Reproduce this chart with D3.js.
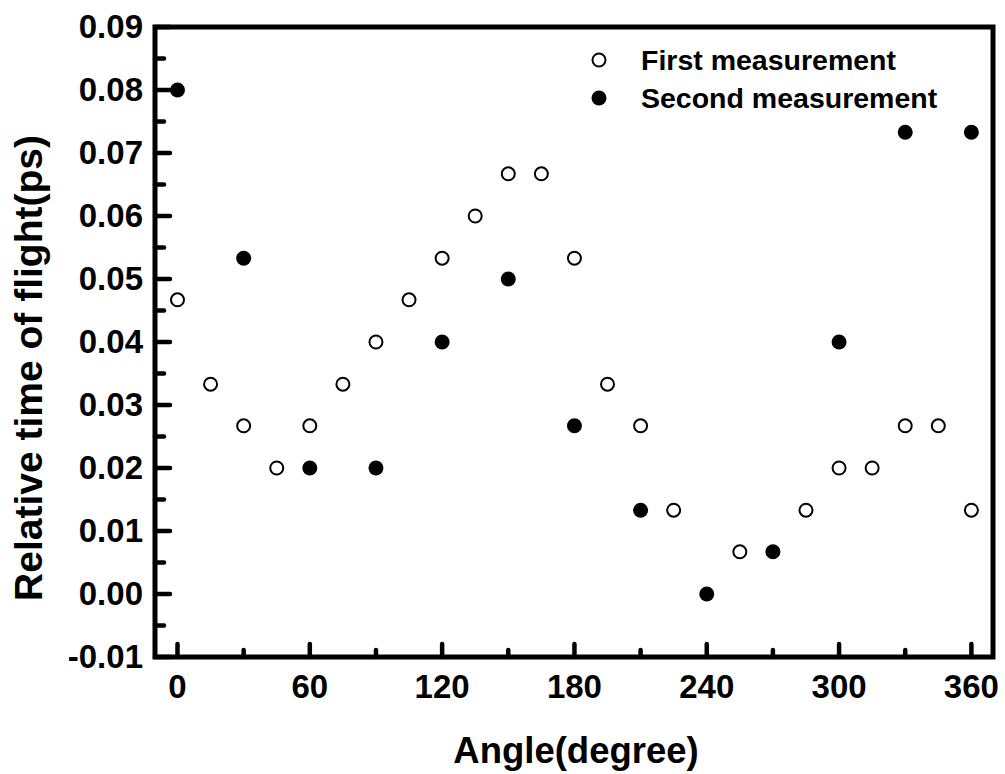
<!DOCTYPE html>
<html>
<head>
<meta charset="utf-8">
<script src="https://cdn.jsdelivr.net/npm/d3@7/dist/d3.min.js"></script>
<style>
  html, body { margin: 0; padding: 0; background: #fff; }
</style>
</head>
<body>
<div id="chart"></div>
<script>
// data
const firstAngles = [0, 15, 30, 45, 60, 75, 90, 105, 120, 135, 150, 165, 180, 195, 210, 225, 255, 285, 300, 315, 330, 345, 360]
const firstValues = [0.0467, 0.0333, 0.0267, 0.02, 0.0267, 0.0333, 0.04, 0.0467, 0.0533, 0.06, 0.0667, 0.0667, 0.0533, 0.0333, 0.0267, 0.0133, 0.0067, 0.0133, 0.02, 0.02, 0.0267, 0.0267, 0.0133]
const secondAngles = [0, 30, 60, 90, 120, 150, 180, 210, 240, 270, 300, 330, 360]
const secondValues = [0.08, 0.0533, 0.02, 0.02, 0.04, 0.05, 0.0267, 0.0133, 0, 0.0067, 0.04, 0.0733, 0.0733]
const xTicks = [0, 60, 120, 180, 240, 300, 360]
const xMinor = [30, 90, 150, 210, 270, 330]
const yTicks = [-0.01, 0, 0.01, 0.02, 0.03, 0.04, 0.05, 0.06, 0.07, 0.08, 0.09]
const yMinor = [-0.005, 0.005, 0.015, 0.025, 0.035, 0.045, 0.055, 0.065, 0.075, 0.085]
const legendLabels = ['First measurement', 'Second measurement']

const width = 1005
const height = 774
const margin = { top: 27, right: 12, bottom: 117, left: 155 }
const innerWidth = width - margin.left - margin.right
const innerHeight = height - margin.top - margin.bottom
const font = '"Liberation Sans", Arial, sans-serif'

const x = d3.scaleLinear().domain([-10.2, 369.8]).range([0, innerWidth])
const y = d3.scaleLinear().domain([-0.01, 0.09]).range([innerHeight, 0])

const svg = d3.select('#chart')
  .append('svg')
  .attr('width', width)
  .attr('height', height)
  .style('font-family', font)

const chart = svg.append('g')
  .attr('transform', `translate(${margin.left},${margin.top})`)

// points first, frame drawn over them
const first = firstAngles.map((a, i) => ({ x: a, y: firstValues[i] }))
const second = secondAngles.map((a, i) => ({ x: a, y: secondValues[i] }))

chart.selectAll('circle.first')
  .data(first)
  .enter()
  .append('circle')
  .attr('class', 'first')
  .attr('cx', (d) => x(d.x))
  .attr('cy', (d) => y(d.y))
  .attr('r', 6.5)
  .attr('fill', '#fff')
  .attr('stroke', '#000')
  .attr('stroke-width', 2)

chart.selectAll('circle.second')
  .data(second)
  .enter()
  .append('circle')
  .attr('class', 'second')
  .attr('cx', (d) => x(d.x))
  .attr('cy', (d) => y(d.y))
  .attr('r', 7.5)
  .attr('fill', '#000')

// ticks (inward)
const tickLine = (x1, y1, x2, y2) => {
  chart.append('line')
    .attr('x1', x1).attr('y1', y1)
    .attr('x2', x2).attr('y2', y2)
    .attr('stroke', '#000')
    .attr('stroke-width', 4.5)
    .attr('stroke-linecap', 'round')
}

xTicks.forEach((t) => tickLine(x(t), innerHeight, x(t), innerHeight - 13))
xMinor.forEach((t) => tickLine(x(t), innerHeight, x(t), innerHeight - 7))
yTicks.forEach((t) => tickLine(0, y(t), 15, y(t)))
yMinor.forEach((t) => tickLine(0, y(t), 9, y(t)))

// frame
chart.append('rect')
  .attr('x', 0)
  .attr('y', 0)
  .attr('width', innerWidth)
  .attr('height', innerHeight)
  .attr('fill', 'none')
  .attr('stroke', '#000')
  .attr('stroke-width', 5)

// tick labels
chart.selectAll('text.xt')
  .data(xTicks)
  .enter()
  .append('text')
  .attr('x', (d) => x(d))
  .attr('y', innerHeight + 41)
  .attr('text-anchor', 'middle')
  .attr('font-size', 33)
  .attr('font-weight', 'bold')
  .text((d) => d)

chart.selectAll('text.yt')
  .data(yTicks)
  .enter()
  .append('text')
  .attr('x', -12)
  .attr('y', (d) => y(d) + 11)
  .attr('text-anchor', 'end')
  .attr('font-size', 33)
  .attr('font-weight', 'bold')
  .text((d) => d3.format('.2f')(d).replace('−', '-'))

// axis titles
svg.append('text')
  .attr('x', 576)
  .attr('y', 763)
  .attr('text-anchor', 'middle')
  .attr('font-size', 36.5)
  .attr('font-weight', 'bold')
  .text('Angle(degree)')

svg.append('text')
  .attr('transform', 'translate(42,368) rotate(-90)')
  .attr('text-anchor', 'middle')
  .attr('font-size', 39)
  .attr('font-weight', 'bold')
  .text('Relative time of flight(ps)')

// legend
const legend = svg.append('g')
legendLabels.forEach((label, i) => {
  const cy = 60 + i * 38
  const c = legend.append('circle')
    .attr('cx', 599)
    .attr('cy', cy)
    .attr('r', i === 0 ? 6.5 : 7.5)
  if (i === 0) {
    c.attr('fill', '#fff').attr('stroke', '#000').attr('stroke-width', 2)
  } else {
    c.attr('fill', '#000')
  }
  legend.append('text')
    .attr('x', 641)
    .attr('y', cy + 10)
    .attr('font-size', 28.5)
    .attr('font-weight', 'bold')
    .text(label)
})
</script>
</body>
</html>
